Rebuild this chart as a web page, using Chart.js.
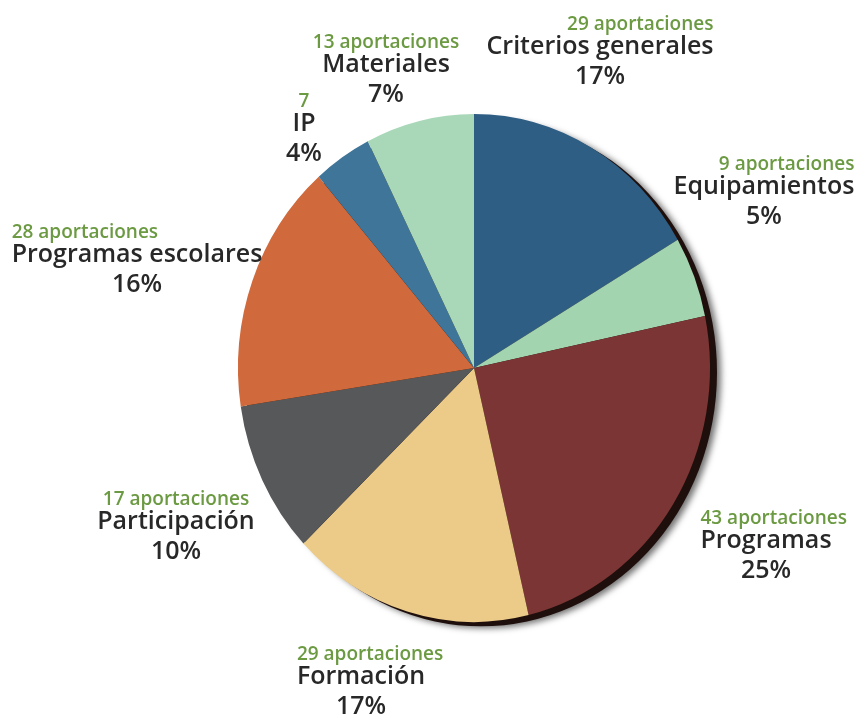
<!DOCTYPE html>
<html>
<head>
<meta charset="utf-8">
<script src="https://cdn.jsdelivr.net/npm/chart.js@4.4.1/dist/chart.umd.min.js"></script>
<style>
  html, body { margin: 0; padding: 0; background: #fff; }
  #wrap { width: 857px; height: 722px; }
</style>
</head>
<body>
<div id="wrap"><canvas id="pie" width="857" height="722"></canvas></div>
<script>
// datos
const categorias = ['Criterios generales', 'Equipamientos', 'Programas', 'Formación', 'Participación', 'Programas escolares', 'IP', 'Materiales'];
const aportaciones = [29, 9, 43, 29, 17, 28, 7, 13];
const porcentajes = ['17%', '5%', '25%', '17%', '10%', '16%', '4%', '7%'];
const textoAportaciones = ['29 aportaciones', '9 aportaciones', '43 aportaciones', '29 aportaciones', '17 aportaciones', '28 aportaciones', '7', '13 aportaciones'];
const colores = ['#2f5e85', '#a3d4b0', '#7b3534', '#ecca88', '#57585a', '#d06a3c', '#3f7599', '#a9d8b9'];

// donde va cada etiqueta (centro del nombre, linea base del nombre, alineacion del texto verde)
const etiquetas = [
  { x: 600, y: 54, verde: 'right' },
  { x: 764, y: 194, verde: 'right' },
  { x: 766, y: 548, verde: 'left' },
  { x: 361, y: 684, verde: 'left' },
  { x: 176, y: 529, verde: 'center' },
  { x: 137, y: 262, verde: 'left' },
  { x: 304, y: 131, verde: 'center' },
  { x: 386, y: 72, verde: 'center' }
];

// el pastel del original es algo mas alto que ancho
const estirarY = 254 / 236;

const forma = {
  id: 'forma',
  beforeDatasetsDraw(chart) {
    const arc = chart.getDatasetMeta(0).data[0];
    if (!arc) return;
    const ctx = chart.ctx;
    ctx.save();
    ctx.translate(arc.x, arc.y);
    ctx.scale(1, estirarY);
    ctx.translate(-arc.x, -arc.y);
    // sombra
    ctx.save();
    ctx.shadowColor = 'rgba(0,0,0,0.55)';
    ctx.shadowBlur = 6;
    ctx.shadowOffsetX = 4;
    ctx.shadowOffsetY = 2;
    ctx.fillStyle = '#1e0f0c';
    ctx.beginPath();
    ctx.arc(arc.x + 7, arc.y + 4, arc.outerRadius, 0, Math.PI * 2);
    ctx.fill();
    ctx.restore();
  },
  afterDatasetsDraw(chart) {
    chart.ctx.restore();
  }
};

const textos = {
  id: 'textos',
  afterDraw(chart) {
    const ctx = chart.ctx;
    ctx.save();
    ctx.textBaseline = 'alphabetic';
    etiquetas.forEach((e, i) => {
      ctx.font = '600 25px "Open Sans"';
      const w = ctx.measureText(categorias[i]).width;
      ctx.fillStyle = '#282828';
      ctx.textAlign = 'center';
      ctx.fillText(categorias[i], e.x, e.y);
      ctx.fillText(porcentajes[i], e.x, e.y + 30);
      ctx.font = '600 19px "Open Sans"';
      ctx.fillStyle = '#6b9a42';
      ctx.textAlign = e.verde;
      let gx = e.x;
      if (e.verde === 'left') gx = e.x - w / 2;
      if (e.verde === 'right') gx = e.x + w / 2;
      ctx.fillText(textoAportaciones[i], gx, e.y - 24);
    });
    ctx.restore();
  }
};

new Chart(document.getElementById('pie').getContext('2d'), {
  type: 'pie',
  data: {
    labels: categorias,
    datasets: [{ data: aportaciones, backgroundColor: colores, borderWidth: 0, clip: false }]
  },
  options: {
    responsive: false,
    animation: false,
    layout: { padding: { left: 238, right: 147, top: 132, bottom: 118 } },
    plugins: { legend: { display: false }, tooltip: { enabled: false } }
  },
  plugins: [forma, textos]
});
</script>
</body>
</html>
